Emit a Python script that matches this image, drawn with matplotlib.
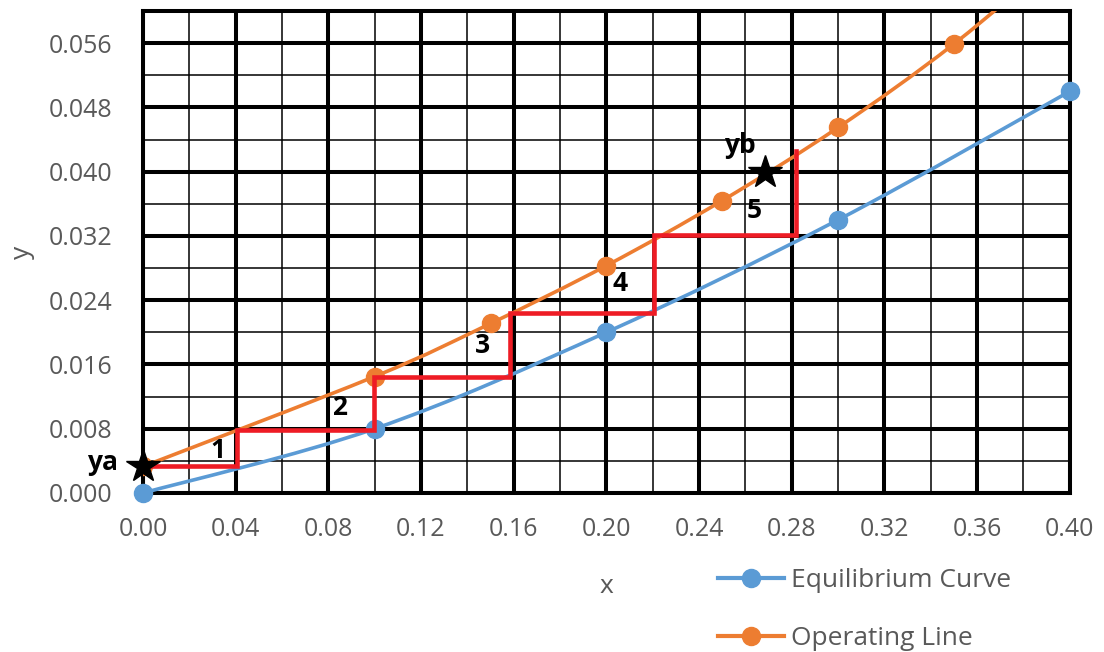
import numpy as np
import matplotlib.pyplot as plt
from matplotlib.path import Path
from matplotlib.patches import PathPatch
from matplotlib.lines import Line2D
from matplotlib.ticker import MultipleLocator, FormatStrFormatter

plt.rcParams['font.family'] = ['Open Sans', 'DejaVu Sans']

# equilibrium curve and operating line
eq_x = [0.0, 0.1, 0.2, 0.3, 0.4]
eq_y = [0.0, 0.008, 0.020, 0.034, 0.050]

op_x = [0.0, 0.1, 0.15, 0.2, 0.25, 0.3, 0.35, 0.4]
op_y = [0.0033, 0.0145, 0.0211, 0.0283, 0.0364, 0.0455, 0.0559, 0.068]

# stage stepping
stair_x = [0.0, 0.0405, 0.0405, 0.0995, 0.0995, 0.1585, 0.1585, 0.2205, 0.2205, 0.282, 0.282]
stair_y = [0.0033, 0.0033, 0.0079, 0.0079, 0.0144, 0.0144, 0.0224, 0.0224, 0.0321, 0.0321, 0.0426]

stage_lbl = ['1', '2', '3', '4', '5']
stage_x = [0.0324, 0.085, 0.1467, 0.2058, 0.2637]
stage_y = [0.0053, 0.0106, 0.0183, 0.0261, 0.0352]

ya = (0.0, 0.0033)
yb = (0.2684, 0.0399)

blue = '#5B9BD5'
orange = '#ED7D31'
red = '#EE1C25'
gray = '#595959'


def smooth_path(xs, ys):
    # catmull-rom style bezier through the points, like a smoothed excel line
    pts = np.column_stack([xs, ys])
    verts = [pts[0]]
    codes = [Path.MOVETO]
    n = len(pts)
    for i in range(n - 1):
        p0 = pts[max(i - 1, 0)]
        p1 = pts[i]
        p2 = pts[i + 1]
        p3 = pts[min(i + 2, n - 1)]
        c1 = p1 + (p2 - p0) / 6.0
        c2 = p2 - (p3 - p1) / 6.0
        verts += [c1, c2, p2]
        codes += [Path.CURVE4] * 3
    return Path(verts, codes)


fig = plt.figure(figsize=(11.04, 6.52), dpi=100)
ax = fig.add_axes([0.1295, 0.2439, 0.8395, 0.7392])

ax.set_xlim(0, 0.40)
ax.set_ylim(0, 0.06)

ax.xaxis.set_major_locator(MultipleLocator(0.04))
ax.xaxis.set_minor_locator(MultipleLocator(0.02))
ax.yaxis.set_major_locator(MultipleLocator(0.008))
ax.yaxis.set_minor_locator(MultipleLocator(0.004))
ax.xaxis.set_major_formatter(FormatStrFormatter('%.2f'))
ax.yaxis.set_major_formatter(FormatStrFormatter('%.3f'))

ax.set_axisbelow(True)
ax.grid(which='major', color='black', lw=2.9)
ax.grid(which='minor', color='black', lw=1.1)
for s in ax.spines.values():
    s.set_linewidth(2.9)
    s.set_color('black')

ax.tick_params(which='both', length=0, labelsize=18, labelcolor=gray)
ax.tick_params(axis='y', pad=22)
ax.tick_params(axis='x', pad=17)

ax.add_patch(PathPatch(smooth_path(eq_x, eq_y), fill=False, edgecolor=blue, lw=2.6, zorder=3))
ax.add_patch(PathPatch(smooth_path(op_x, op_y), fill=False, edgecolor=orange, lw=2.6, zorder=3))
ax.plot(eq_x, eq_y, 'o', color=blue, ms=13, zorder=4, clip_on=False)
ax.plot(op_x, op_y, 'o', color=orange, ms=13, zorder=4)

ax.plot(stair_x, stair_y, color=red, lw=3.3, zorder=5, solid_joinstyle='miter')

ax.plot(*ya, marker='*', color='black', ms=25, zorder=6, clip_on=False)
ax.plot(*yb, marker='*', color='black', ms=25, zorder=6)
ax.text(-0.0173, 0.00385, 'ya', fontsize=19, fontweight='bold', ha='center', va='center')
ax.text(0.2576, 0.0432, 'yb', fontsize=19, fontweight='bold', ha='center', va='center')

for lbl, x, y in zip(stage_lbl, stage_x, stage_y):
    ax.text(x, y, lbl, fontsize=19, fontweight='bold', ha='center', va='center', zorder=7)

ax.set_xlabel('x', fontsize=19, color=gray, labelpad=23)
ax.set_ylabel('y', fontsize=19, color=gray, labelpad=10)

handles = [
    Line2D([], [], color=blue, lw=3, marker='o', ms=13),
    Line2D([], [], color=orange, lw=3, marker='o', ms=13),
]
fig.legend(handles, ['Equilibrium Curve', 'Operating Line'], loc='upper left',
           bbox_to_anchor=(0.650, 0.129), frameon=False, fontsize=19,
           labelcolor=gray, handlelength=2.5, handletextpad=0.3,
           labelspacing=1.25, borderpad=0, borderaxespad=0)

fig.savefig('out.png', dpi=100)
